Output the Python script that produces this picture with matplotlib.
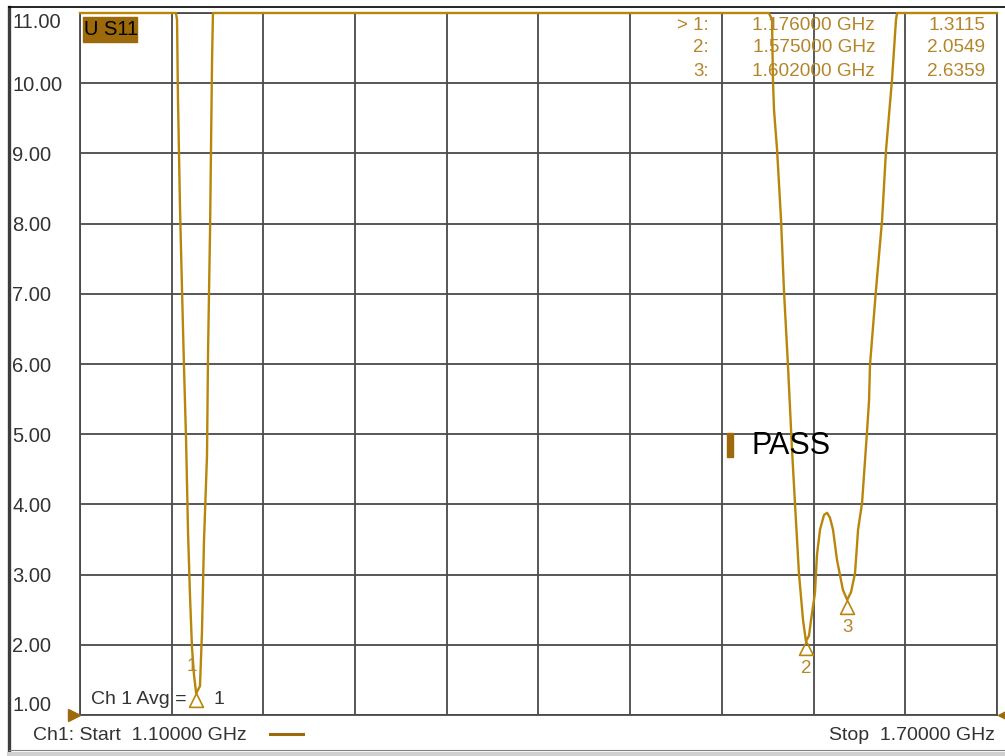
import numpy as np
import matplotlib
matplotlib.use("Agg")
import matplotlib.pyplot as plt
from matplotlib.path import Path
from matplotlib.lines import Line2D
from matplotlib.patches import Rectangle

plt.rcParams['font.family'] = ['Liberation Sans', 'DejaVu Sans']

# S11 trace (GHz, SWR). Off-screen values sit on the 11.00 line.
freq = [1.1000,
        1.1628, 1.1635, 1.1641, 1.1654, 1.1667, 1.1680, 1.1694, 1.1707, 1.1720, 1.1733,
        1.1746, 1.1760, 1.1785, 1.1798, 1.1811, 1.1831, 1.1838, 1.1851, 1.1864, 1.1870,
        1.5508, 1.5528, 1.5534, 1.5541, 1.5561, 1.5587, 1.5606, 1.5632, 1.5659, 1.5678,
        1.5704, 1.5731, 1.5750, 1.5770, 1.5783, 1.5809, 1.5822, 1.5842, 1.5868, 1.5888,
        1.5907, 1.5927, 1.5953, 1.5992, 1.6020, 1.6045, 1.6071, 1.6091, 1.6117, 1.6149,
        1.6163, 1.6169, 1.6208, 1.6248, 1.6274, 1.6313, 1.6339, 1.6346,
        1.7000]
swr = [11.0,
       11.0, 10.90, 9.79, 8.26, 7.10, 5.99, 4.92, 3.59, 2.68, 1.95,
       1.57, 1.31, 1.41, 2.18, 3.46, 4.70, 6.20, 7.91, 10.33, 11.0,
       11.0, 10.90, 10.05, 9.62, 9.05, 8.05, 7.05, 5.99, 4.77, 4.02,
       3.02, 2.35, 2.05, 2.13, 2.35, 2.74, 3.28, 3.64, 3.85, 3.88,
       3.81, 3.64, 3.21, 2.78, 2.64, 2.75, 3.02, 3.64, 4.02, 5.02,
       5.49, 5.99, 7.05, 8.05, 9.05, 10.05, 10.90, 11.0,
       11.0]

y_ticks = [1, 2, 3, 4, 5, 6, 7, 8, 9, 10, 11]
y_tick_labels = ['1.00', '2.00', '3.00', '4.00', '5.00', '6.00',
                 '7.00', '8.00', '9.00', '10.00', '11.00']
x_start, x_stop = 1.10, 1.70

mkr_id = ['1', '2', '3']
mkr_freq = [1.176, 1.575, 1.602]
mkr_val = [1.3115, 2.0549, 2.6359]

GOLD = '#b8860b'
GOLD_TXT = '#b5852a'
DARK_GOLD = '#9c6a0a'
GRID = '#4a4a4a'
TXT = '#333333'

W, H = 1005, 756
fig = plt.figure(figsize=(W / 100, H / 100), dpi=100)
fig.patch.set_facecolor('white')


def fx(px):
    return px / W


def fy(py):
    return 1 - py / H


ax = fig.add_axes([fx(80), fy(715), fx(997) - fx(80), fy(13) - fy(715)])
ax.set_xlim(x_start, x_stop)
ax.set_ylim(1, 11)
ax.set_xticks(np.linspace(x_start, x_stop, 11))
ax.set_yticks(y_ticks)
ax.set_yticklabels(y_tick_labels, ha='left', fontsize=14.5, color=TXT)
ax.tick_params(axis='x', labelbottom=False, length=0)
ax.tick_params(axis='y', length=0, pad=68 * 0.72)
labs = ax.get_yticklabels()
labs[0].set_va('bottom')
labs[-1].set_va('top')
ax.grid(True, color=GRID, lw=1.3)
for s in ax.spines.values():
    s.set_color(GRID)
    s.set_linewidth(1.3)

# trace
ax.plot(freq, swr, color=GOLD, lw=1.7, clip_on=False, zorder=3)

# open triangle markers with the apex on the trace
tri = Path([(0, 0), (-0.5, -1), (0.5, -1), (0, 0)],
           [Path.MOVETO, Path.LINETO, Path.LINETO, Path.CLOSEPOLY])
ax.plot(mkr_freq, mkr_val, ls='none', marker=tri, ms=20, mfc='none',
        mec=GOLD, mew=1.2, clip_on=False, zorder=4)
label_off = [(-3, 19), (0, -20), (0, -20)]
for name, f, v, off in zip(mkr_id, mkr_freq, mkr_val, label_off):
    ax.annotate(name, (f, v), xytext=off, textcoords='offset points',
                ha='center', va='center', fontsize=13.5, color=GOLD_TXT)

# marker readout table
row_y = [25, 48, 72]
for i, (name, f, v) in enumerate(zip(mkr_id, mkr_freq, mkr_val)):
    tag = ('> ' if i == 0 else '') + name + ':'
    fig.text(fx(709), fy(row_y[i]), tag, ha='right', va='center', fontsize=13.5, color=GOLD_TXT)
    fig.text(fx(875), fy(row_y[i]), f'{f:.6f} GHz', ha='right', va='center',
             fontsize=13.7, color=GOLD_TXT)
    fig.text(fx(985), fy(row_y[i]), f'{v:.4f}', ha='right', va='center',
             fontsize=13.7, color=GOLD_TXT)

# trace label box
fig.add_artist(Rectangle((fx(83), fy(42)), fx(137) - fx(83), fy(17) - fy(42),
                         transform=fig.transFigure, color=DARK_GOLD, zorder=5))
fig.text(fx(84), fy(29.5), 'U S11', ha='left', va='center', fontsize=14.5,
         color='black', zorder=6)

# limit test
fig.add_artist(Rectangle((fx(727), fy(457)), fx(733) - fx(727), fy(433) - fy(457),
                         transform=fig.transFigure, color=DARK_GOLD))
fig.text(fx(751), fy(446), 'PASS', ha='left', va='center', fontsize=22, color='black')

fig.text(fx(91), fy(700), 'Ch 1 Avg = ', ha='left', va='center', fontsize=14, color=TXT)
fig.text(fx(213), fy(700), '1', ha='left', va='center', fontsize=14, color=TXT)

# bottom status line
fig.text(fx(33), fy(735), f'Ch1: Start  {x_start:.5f} GHz', ha='left', va='center',
         fontsize=14, color=TXT)
fig.text(fx(995), fy(735), f'Stop  {x_stop:.5f} GHz', ha='right', va='center',
         fontsize=14, color=TXT)
fig.add_artist(Line2D([fx(270), fx(303)], [fy(734), fy(734)], transform=fig.transFigure,
                      color=DARK_GOLD, lw=2.2))

# reference position arrows
fig.add_artist(Line2D([fx(74)], [fy(715)], transform=fig.transFigure, marker='>',
                      ms=9, color=DARK_GOLD, ls='none'))
fig.add_artist(Line2D([fx(1004)], [fy(715)], transform=fig.transFigure, marker='<',
                      ms=9, color=DARK_GOLD, ls='none'))

# window frame
fig.add_artist(Line2D([fx(9), fx(9)], [fy(7), fy(750)], transform=fig.transFigure,
                      color='#3c3c3c', lw=2.4))
fig.add_artist(Line2D([fx(9), fx(1005)], [fy(7), fy(7)], transform=fig.transFigure,
                      color='black', lw=1.2))
fig.add_artist(Line2D([fx(9), fx(1005)], [fy(750), fy(750)], transform=fig.transFigure,
                      color='#808080', lw=0.8))
fig.add_artist(Line2D([fx(9), fx(1005)], [fy(753.5), fy(753.5)], transform=fig.transFigure,
                      color='#d0d0d0', lw=3))

fig.savefig('out.png', dpi=100)
